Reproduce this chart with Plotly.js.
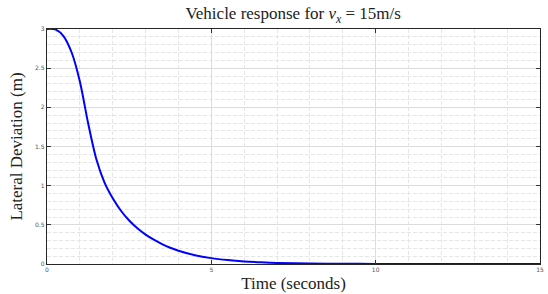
<!DOCTYPE html>
<html>
<head>
<meta charset="utf-8">
<script src="https://cdn.plot.ly/plotly-3.0.1.min.js"></script>
<style>html,body{margin:0;padding:0;background:#fff;}#chart{width:548px;height:294px;}</style>
</head>
<body>
<div id="chart"></div>
<script>
const timeSeconds = [0, 0.25, 0.5, 0.75, 1.0, 1.25, 1.5, 1.75, 2.0, 2.25, 2.5, 2.75, 3.0, 3.25, 3.5, 3.75, 4.0, 4.5, 5.0, 5.5, 6.0, 6.5, 7.0, 8.0, 9.0, 10.0, 11.0, 12.0, 13.0, 14.0, 15.0];
const lateralDeviation = [3.0, 2.995, 2.91, 2.70, 2.33, 1.80, 1.34, 1.04, 0.84, 0.68, 0.555, 0.455, 0.375, 0.31, 0.255, 0.208, 0.17, 0.113, 0.075, 0.05, 0.033, 0.022, 0.014, 0.006, 0.003, 0.0015, 0.0008, 0.0004, 0.0002, 0.0001, 0.0];
const xTicks = [0, 5, 10, 15];
const yTicks = [0, 0.5, 1, 1.5, 2, 2.5, 3];

const serif = '"Liberation Serif", "DejaVu Serif", serif';
const tickFont = {family: '"DejaVu Sans", sans-serif', size: 6, color: '#555'};

Plotly.newPlot('chart', [{
  x: timeSeconds,
  y: lateralDeviation,
  type: 'scatter',
  mode: 'lines',
  line: {color: '#0000ff', width: 2, shape: 'spline', smoothing: 0.8},
  hoverinfo: 'skip'
}], {
  width: 548, height: 294,
  margin: {l: 47, r: 8, t: 29, b: 30},
  paper_bgcolor: '#fff', plot_bgcolor: '#fff',
  showlegend: false,
  title: {text: 'Vehicle response for <i>v<sub>x</sub></i> = 15m/s', font: {family: serif, size: 17, color: '#222'}, x: 0.535, xanchor: 'center', y: 0.955, yanchor: 'middle'},
  xaxis: {
    range: [0, 15], tickvals: xTicks, ticktext: xTicks.map(String),
    ticks: 'inside', ticklen: 4, tickcolor: '#333', tickwidth: 1,
    showline: true, linecolor: '#262626', linewidth: 1.2, mirror: 'ticks',
    showgrid: true, gridcolor: '#dcdcdc', gridwidth: 1,
    minor: {dtick: 1, showgrid: true, gridcolor: '#e6e6e6', griddash: '4px,2px', gridwidth: 1, ticks: ''},
    zeroline: false, tickfont: tickFont,
    title: {text: 'Time (seconds)', font: {family: serif, size: 17, color: '#222'}, standoff: 4}
  },
  yaxis: {
    range: [0, 3], tickvals: yTicks, ticktext: yTicks.map(String),
    ticks: 'inside', ticklen: 4, tickcolor: '#333', tickwidth: 1,
    showline: true, linecolor: '#262626', linewidth: 1.2, mirror: 'ticks',
    showgrid: true, gridcolor: '#dcdcdc', gridwidth: 1,
    minor: {dtick: 0.1, showgrid: true, gridcolor: '#e6e6e6', griddash: '4px,2px', gridwidth: 1, ticks: ''},
    zeroline: false, tickfont: tickFont,
    title: {text: 'Lateral Deviation (m)', font: {family: serif, size: 17, color: '#222'}, standoff: 8}
  }
}, {displayModeBar: false, staticPlot: true});
</script>
</body>
</html>
